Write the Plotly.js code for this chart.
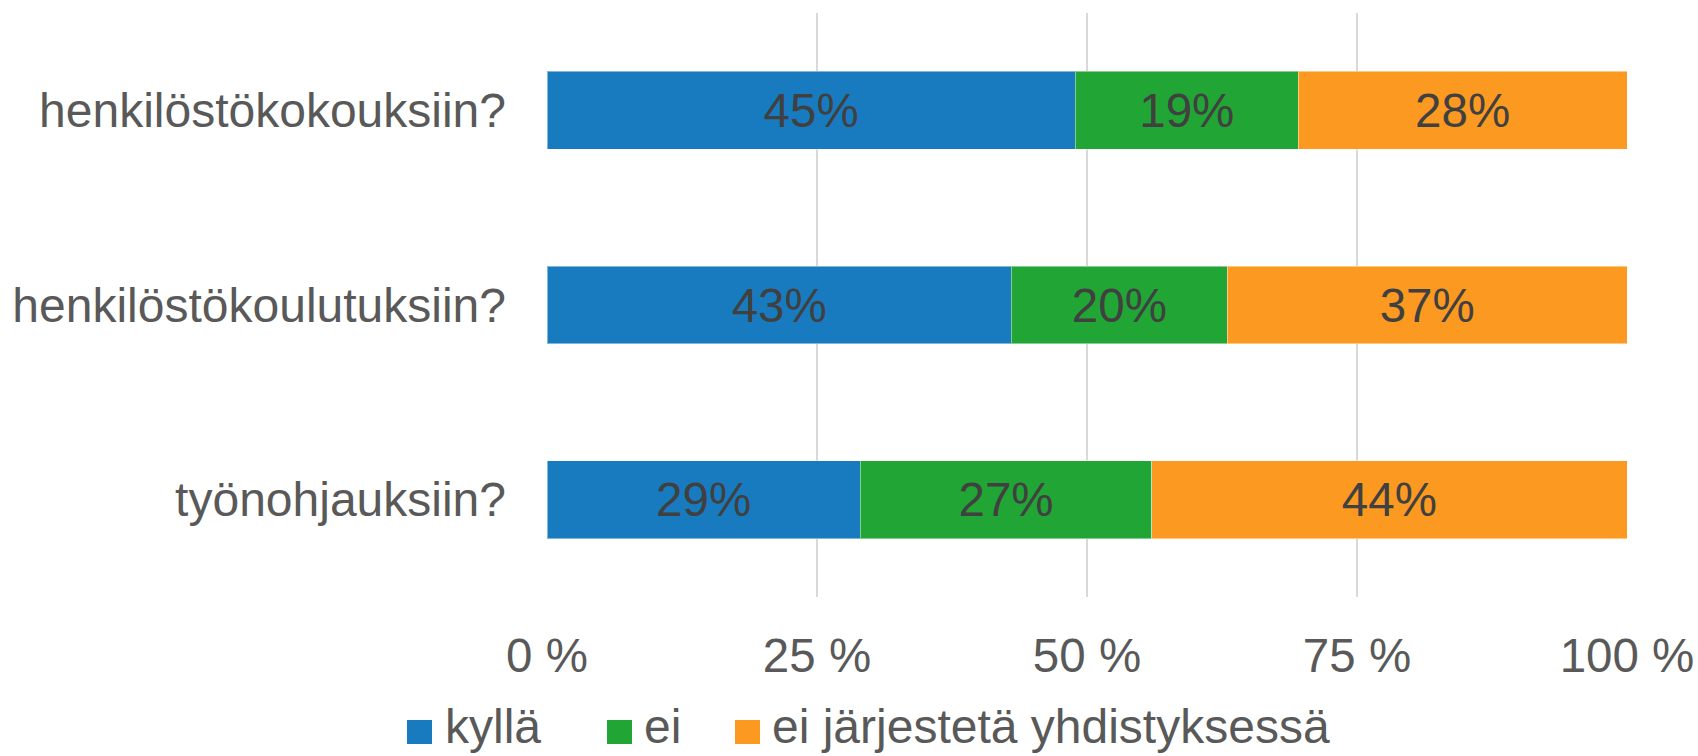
<!DOCTYPE html>
<html>
<head>
<meta charset="utf-8">
<script src="https://cdn.plot.ly/plotly-3.0.1.min.js"></script>
<style>html,body{margin:0;padding:0;background:#fff;}#chart{width:1698px;height:756px;}</style>
</head>
<body>
<div id="chart"></div>
<script>
const categories = ["henkilöstökokouksiin?", "henkilöstökoulutuksiin?", "työnohjauksiin?"];
const seriesNames = ["kyllä", "ei", "ei järjestetä yhdistyksessä"];
const kylla = [45, 43, 29];
const ei = [19, 20, 27];
const eiJarjesteta = [28, 37, 44];
const seriesColors = ["#187BBF", "#21A535", "#FB9920"];
const tickValues = [0, 25, 50, 75, 100];
const tickLabels = ["0 %", "25 %", "50 %", "75 %", "100 %"];

const W = 1698, H = 756;
const M = {l: 547, r: 71, t: 13, b: 159};
const pw = W - M.l - M.r, ph = H - M.t - M.b;
const px2x = p => (p - M.l) / pw;
const px2y = p => (H - M.b - p) / ph;

const FONT = "Liberation Sans, Arial, sans-serif";
const seriesValues = [kylla, ei, eiJarjesteta];

const traces = seriesValues.map((vals, i) => ({
  type: "bar",
  orientation: "h",
  name: seriesNames[i],
  y: categories,
  x: vals,
  text: vals.map(v => v + "%"),
  textposition: "inside",
  insidetextanchor: "middle",
  constraintext: "none",
  textfont: {family: FONT, size: 47.5, color: "#404040"},
  marker: {color: seriesColors[i], line: {color: "rgba(255,255,255,0.45)", width: 1}},
  hoverinfo: "skip",
  showlegend: false
}));

// legend drawn as shapes + annotations
const legendMarkers = [407, 607, 735];
const legendTexts = [444, 643, 771];
const shapes = [];
const annotations = [];
seriesNames.forEach((n, i) => {
  shapes.push({
    type: "rect", xref: "paper", yref: "paper",
    x0: px2x(legendMarkers[i]), x1: px2x(legendMarkers[i] + 25),
    y0: px2y(744), y1: px2y(720),
    fillcolor: seriesColors[i], line: {width: 0}
  });
  annotations.push({
    xref: "paper", yref: "paper",
    x: px2x(legendTexts[i]), y: px2y(726),
    xanchor: "left", yanchor: "middle",
    text: n, showarrow: false, borderpad: 0,
    font: {family: FONT, size: 48, color: "#595959"}
  });
});

const layout = {
  width: W, height: H,
  margin: M,
  barmode: "stack",
  barnorm: "percent",
  bargap: 0.6,
  paper_bgcolor: "#fff",
  plot_bgcolor: "#fff",
  showlegend: false,
  font: {family: FONT, size: 48, color: "#595959"},
  xaxis: {
    range: [0, 100],
    tickvals: tickValues,
    ticktext: tickLabels,
    showgrid: true,
    gridcolor: "#D9D9D9",
    gridwidth: 1.3,
    zeroline: false,
    showline: false,
    ticks: "",
    ticklabelstandoff: 26,
    tickfont: {family: FONT, size: 47.5, color: "#595959"},
    fixedrange: true
  },
  yaxis: {
    type: "category",
    autorange: "reversed",
    showgrid: false,
    zeroline: false,
    showline: false,
    ticks: "",
    ticklabelstandoff: 40,
    tickfont: {family: FONT, size: 48, color: "#595959"},
    fixedrange: true
  },
  shapes: shapes,
  annotations: annotations
};

Plotly.newPlot("chart", traces, layout, {displayModeBar: false, staticPlot: true});
</script>
</body>
</html>
